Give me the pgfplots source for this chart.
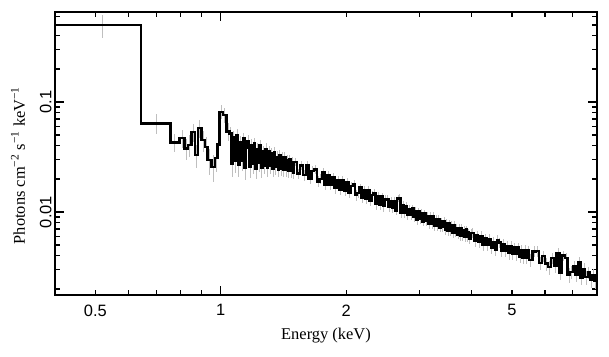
\documentclass[border=0pt]{standalone}
\usepackage{fontspec}
\setmainfont{Liberation Serif}
\setsansfont{Liberation Sans}
\usepackage{pgfplots}
\usepackage{pgfplotstable}
\pgfplotsset{compat=1.18}
\pgfplotstableread{
edge center y err
0.400 0.52 0.50 0.115
0.644 0.70 0.064 0.013
0.757 0.776 0.0428 0.008
0.796 0.807 0.0468 0.009
0.819 0.826 0.0379 0.008
0.834 0.842 0.0407 0.009
0.850 0.858 0.0537 0.010
0.866 0.874 0.033 0.008
0.882 0.890 0.0577 0.011
0.899 0.907 0.045 0.010
0.915 0.922 0.039 0.009
0.930 0.940 0.0297 0.008
0.950 0.958 0.0258 0.007
0.967 0.974 0.031 0.008
0.982 0.988 0.041 0.009
0.994 1.003 0.0816 0.012
1.013 1.022 0.076 0.012
1.032 1.041 0.054 0.010
1.05 1.055 0.0517 0.0070
1.06 1.065 0.0275 0.0068
1.07 1.075 0.0475 0.0067
1.08 1.085 0.0293 0.0066
1.09 1.095 0.0503 0.0065
1.10 1.105 0.0271 0.0063
1.11 1.115 0.0433 0.0062
1.12 1.125 0.0295 0.0061
1.13 1.135 0.0464 0.0060
1.14 1.145 0.0253 0.0058
1.15 1.155 0.0386 0.0057
1.16 1.165 0.0443 0.0056
1.17 1.175 0.0259 0.0055
1.18 1.185 0.0409 0.0054
1.19 1.195 0.0274 0.0053
1.20 1.205 0.0422 0.0052
1.21 1.215 0.0249 0.0051
1.22 1.225 0.0374 0.0050
1.23 1.235 0.0278 0.0049
1.24 1.245 0.0407 0.0048
1.25 1.255 0.0250 0.0047
1.26 1.265 0.0354 0.0046
1.27 1.275 0.0265 0.0045
1.28 1.285 0.0376 0.0044
1.29 1.295 0.0250 0.0043
1.30 1.305 0.0357 0.0042
1.31 1.315 0.0261 0.0041
1.32 1.325 0.0340 0.0040
1.33 1.335 0.0248 0.0040
1.34 1.345 0.0350 0.0039
1.35 1.355 0.0255 0.0038
1.36 1.365 0.0318 0.0037
1.37 1.375 0.0244 0.0037
1.38 1.385 0.0329 0.0036
1.39 1.395 0.0249 0.0035
1.40 1.405 0.0315 0.0035
1.41 1.415 0.0242 0.0034
1.42 1.425 0.0314 0.0034
1.43 1.435 0.0243 0.0033
1.44 1.445 0.0298 0.0033
1.45 1.455 0.0235 0.0032
1.46 1.465 0.0300 0.0032
1.47 1.475 0.0236 0.0031
1.48 1.485 0.0284 0.0031
1.49 1.495 0.0229 0.0030
1.500 1.5125 0.0286 0.0026
1.525 1.5375 0.0223 0.0025
1.550 1.5625 0.0265 0.0025
1.575 1.5875 0.0216 0.0024
1.600 1.6125 0.0264 0.0024
1.625 1.6375 0.0202 0.0023
1.650 1.6625 0.0237 0.0023
1.675 1.6875 0.0243 0.0022
1.700 1.7125 0.0190 0.0021
1.725 1.7375 0.0200 0.0021
1.750 1.7625 0.0231 0.0020
1.775 1.7875 0.0177 0.0020
1.800 1.8125 0.0215 0.0019
1.825 1.8375 0.0176 0.0019
1.850 1.8625 0.0208 0.0018
1.875 1.8875 0.0165 0.0018
1.900 1.9125 0.0195 0.0018
1.925 1.9375 0.0160 0.0017
1.950 1.9625 0.0196 0.0017
1.975 1.9875 0.0156 0.0017
2.000 2.0125 0.0187 0.0016
2.025 2.0375 0.0149 0.0016
2.050 2.0625 0.0172 0.0016
2.075 2.0875 0.0179 0.0015
2.100 2.1125 0.0142 0.0015
2.125 2.1375 0.0149 0.0015
2.150 2.1625 0.0167 0.0014
2.175 2.1875 0.0134 0.0014
2.200 2.2125 0.0159 0.0014
2.225 2.2375 0.0133 0.0014
2.250 2.2625 0.0159 0.0013
2.275 2.2875 0.0126 0.0013
2.300 2.3125 0.0142 0.0013
2.325 2.3375 0.0149 0.0013
2.350 2.3625 0.0118 0.0013
2.375 2.3875 0.0140 0.0012
2.400 2.4125 0.0117 0.0012
2.425 2.4375 0.0138 0.0012
2.450 2.4625 0.0113 0.0012
2.475 2.4875 0.0130 0.0012
2.500 2.5125 0.01314 0.00110
2.525 2.5375 0.01104 0.00109
2.550 2.5625 0.01255 0.00107
2.575 2.5875 0.01086 0.00106
2.600 2.6125 0.01256 0.00104
2.625 2.6375 0.01034 0.00103
2.650 2.6625 0.01322 0.00101
2.675 2.6875 0.01348 0.00100
2.700 2.7125 0.00981 0.00098
2.725 2.7375 0.01150 0.00097
2.750 2.7625 0.00975 0.00095
2.775 2.7875 0.01130 0.00094
2.800 2.8125 0.00938 0.00093
2.825 2.8375 0.01068 0.00092
2.850 2.8625 0.00943 0.00090
2.875 2.8875 0.01079 0.00089
2.900 2.9125 0.00898 0.00088
2.925 2.9375 0.01021 0.00087
2.950 2.9625 0.00855 0.00086
2.975 2.9875 0.01012 0.00084
3.000 3.0125 0.00859 0.00083
3.025 3.0375 0.00978 0.00082
3.050 3.0625 0.00822 0.00081
3.075 3.0875 0.00973 0.00080
3.100 3.1125 0.00830 0.00079
3.125 3.1375 0.00917 0.00079
3.150 3.1625 0.00785 0.00078
3.175 3.1875 0.00921 0.00077
3.200 3.2125 0.00776 0.00076
3.225 3.2375 0.00916 0.00075
3.250 3.2625 0.00750 0.00074
3.275 3.2875 0.00864 0.00073
3.300 3.3125 0.00749 0.00072
3.325 3.3375 0.00860 0.00072
3.350 3.3625 0.00724 0.00071
3.375 3.3875 0.00817 0.00070
3.400 3.4125 0.00731 0.00069
3.425 3.4375 0.00828 0.00068
3.450 3.4625 0.00684 0.00068
3.475 3.4875 0.00795 0.00067
3.500 3.5125 0.00677 0.00066
3.525 3.5375 0.00787 0.00066
3.550 3.5625 0.00671 0.00065
3.575 3.5875 0.00757 0.00064
3.600 3.6125 0.00643 0.00064
3.625 3.6375 0.00763 0.00063
3.650 3.6625 0.00651 0.00062
3.675 3.6875 0.00720 0.00062
3.700 3.7125 0.00625 0.00061
3.725 3.7375 0.00720 0.00061
3.750 3.7625 0.00606 0.00060
3.775 3.7875 0.00712 0.00059
3.800 3.8125 0.00607 0.00059
3.825 3.8375 0.00685 0.00058
3.850 3.8625 0.00589 0.00058
3.875 3.8875 0.00691 0.00057
3.900 3.9125 0.00589 0.00056
3.925 3.9375 0.00652 0.00056
3.950 3.9625 0.00566 0.00055
3.975 3.9875 0.00646 0.00055
4.00 4.025 0.00644 0.00068
4.05 4.075 0.00544 0.00067
4.10 4.125 0.00610 0.00066
4.15 4.175 0.00531 0.00065
4.20 4.225 0.00606 0.00064
4.25 4.275 0.00502 0.00063
4.30 4.325 0.00575 0.00062
4.35 4.375 0.00501 0.00061
4.40 4.425 0.00570 0.00060
4.45 4.475 0.00473 0.00059
4.50 4.525 0.00532 0.00058
4.55 4.575 0.00457 0.00058
4.60 4.625 0.00556 0.00057
4.65 4.675 0.00530 0.00056
4.70 4.725 0.00446 0.00056
4.75 4.775 0.00509 0.00055
4.80 4.825 0.00442 0.00055
4.85 4.875 0.00488 0.00054
4.90 4.925 0.00422 0.00053
4.95 4.975 0.00491 0.00053
5.00 5.025 0.00418 0.00052
5.05 5.075 0.00476 0.00052
5.10 5.125 0.00413 0.00051
5.15 5.175 0.00474 0.00051
5.20 5.225 0.00395 0.00050
5.25 5.275 0.00450 0.00050
5.30 5.325 0.00383 0.00049
5.35 5.375 0.00449 0.00049
5.40 5.425 0.00387 0.00048
5.45 5.475 0.00448 0.00048
5.5 5.55 0.00365 0.00050
5.6 5.65 0.00437 0.00049
5.7 5.75 0.00440 0.00048
5.8 5.85 0.00344 0.00047
5.9 5.95 0.00398 0.00047
6.0 6.05 0.00339 0.00046
6.1 6.15 0.00315 0.00045
6.2 6.25 0.00383 0.00045
6.3 6.35 0.00321 0.00044
6.4 6.45 0.00425 0.00043
6.5 6.55 0.00282 0.00043
6.6 6.65 0.00401 0.00042
6.7 6.75 0.00381 0.00041
6.8 6.85 0.00269 0.00041
6.9 6.95 0.00285 0.00040
7.0 7.05 0.00322 0.00039
7.1 7.15 0.00268 0.00039
7.2 7.25 0.00350 0.00038
7.3 7.35 0.00253 0.00038
7.4 7.45 0.00305 0.00037
7.5 7.55 0.00255 0.00037
7.6 7.65 0.00283 0.00036
7.7 7.75 0.00240 0.00036
7.8 7.85 0.00267 0.00035
7.9 7.95 0.00235 0.00035
8.0 7.95 0.00235 0.00035
}\spec
\begin{document}
\begin{tikzpicture}
\begin{loglogaxis}[
  scale only axis, width=542bp, height=283bp,
  xmin=0.4, xmax=8, ymin=0.00176, ymax=0.658,
  axis line style={line width=1.6bp},
  tick style={line width=1.3bp, black},
  tick align=inside,
  major tick length=5bp, minor tick length=5bp,
  xtick={0.5,1,2,5}, xticklabels={0.5,1,2,5},
  minor xtick={0.6,0.7,0.8,0.9,3,4,6,7},
  extra x ticks={1}, extra x tick labels={},
  extra x tick style={major tick length=9bp},
  ytick={0.01,0.1}, yticklabels={0.01,0.1},
  minor ytick={0.002,0.003,0.004,0.005,0.006,0.007,0.008,0.009,0.02,0.03,0.04,0.05,0.06,0.07,0.08,0.09,0.2,0.3,0.4,0.5,0.6},
  extra y ticks={0.01,0.1}, extra y tick labels={},
  extra y tick style={major tick length=9bp},
  /pgf/number format/assume math mode=true,
  every tick label/.append style={font=\fontsize{16.5}{19}\sffamily},
  xticklabel style={yshift=-6bp},
  yticklabel style={rotate=90, anchor=south},
  xlabel={Energy (keV)},
  ylabel={Photons cm\textsuperscript{−2} s\textsuperscript{−1} keV\textsuperscript{−1}},
  every axis label/.append style={font=\fontsize{16.5}{20}\selectfont},
  xlabel style={at={([yshift=-41bp]axis description cs:0.5,0)}, anchor=center},
  ylabel style={at={([xshift=-37bp,yshift=-12bp]axis description cs:0,0.5)}, anchor=center},
]
\addplot[draw=none, mark=none, forget plot,
  error bars/.cd, y dir=both, y explicit, error mark=none,
  error bar style={draw=black!25, line width=0.8bp}]
  table[x=center, y=y, y error=err]{\spec};
\addplot[const plot, black, line width=2.4bp, mark=none] table[x=edge, y=y]{\spec};
\coordinate (bl) at (rel axis cs:0,0);
\coordinate (tr) at (rel axis cs:1,1);
\end{loglogaxis}
\pgfresetboundingbox
\path ([xshift=-55bp,yshift=-62bp]bl) rectangle ([xshift=12bp,yshift=12bp]tr);
\end{tikzpicture}
\end{document}
